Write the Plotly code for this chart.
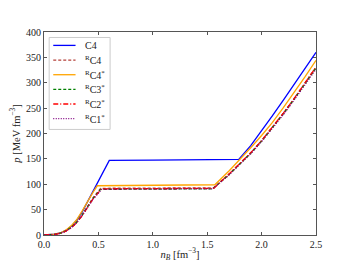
import plotly.graph_objects as go

# ---- data ----
n_C4 = [0, 0.05, 0.1, 0.15, 0.2, 0.25, 0.3, 0.35, 0.4, 0.45, 0.5, 0.55, 0.6, 1.0, 1.5, 1.79, 1.9, 2.0, 2.1, 2.2, 2.3, 2.4, 2.5]
p_C4 = [0, 0.3, 1.5, 4, 9, 17, 29, 45, 65, 87, 107, 127, 147, 147.5, 148, 149, 176, 205, 235, 266, 297, 328, 360]

n_RC4 = [0, 0.05, 0.1, 0.15, 0.2, 0.25, 0.3, 0.35, 0.4, 0.45, 0.52, 1.0, 1.56, 1.7, 1.8, 1.9, 2.0, 2.1, 2.2, 2.3, 2.4, 2.5]
p_RC4 = [0, 0.2, 1.2, 3.5, 8, 15, 25, 39, 56, 73, 92, 92.5, 93, 120, 140, 162, 186, 212, 240, 269, 300, 331]

n_RC4s = [0, 0.05, 0.1, 0.15, 0.2, 0.25, 0.3, 0.35, 0.4, 0.45, 0.49, 1.0, 1.57, 1.7, 1.8, 1.9, 2.0, 2.1, 2.2, 2.3, 2.4, 2.5]
p_RC4s = [0, 0.3, 1.5, 4, 9.5, 18, 30, 47, 66, 84, 97, 98, 99, 126, 148, 172, 196, 222, 251, 281, 312, 344]

n_RC3s = [0, 0.05, 0.1, 0.15, 0.2, 0.25, 0.3, 0.35, 0.4, 0.45, 0.52, 1.0, 1.55, 1.7, 1.8, 1.9, 2.0, 2.1, 2.2, 2.3, 2.4, 2.5]
p_RC3s = [0, 0.2, 1.2, 3.5, 8, 15, 25, 39, 56, 72, 90, 90.5, 91, 119, 139, 161, 185, 211, 239, 268, 298, 329]

n_RC2s = [0, 0.05, 0.1, 0.15, 0.2, 0.25, 0.3, 0.35, 0.4, 0.45, 0.53, 1.0, 1.56, 1.7, 1.8, 1.9, 2.0, 2.1, 2.2, 2.3, 2.4, 2.5]
p_RC2s = [0, 0.2, 1.1, 3.3, 7.5, 14, 24, 38, 54, 71, 91, 91.5, 92, 120, 140, 162, 186, 212, 240, 269, 300, 331]

n_RC1s = [0, 0.05, 0.1, 0.15, 0.2, 0.25, 0.3, 0.35, 0.4, 0.45, 0.53, 1.0, 1.55, 1.7, 1.8, 1.9, 2.0, 2.1, 2.2, 2.3, 2.4, 2.5]
p_RC1s = [0, 0.2, 1.1, 3.3, 7.5, 14, 24, 38, 54, 70, 90, 90.5, 91, 118, 138, 160, 184, 210, 237, 266, 296, 327]

x_ticks = [0.0, 0.5, 1.0, 1.5, 2.0, 2.5]
x_ticklabels = ["0.0", "0.5", "1.0", "1.5", "2.0", "2.5"]
y_ticks = [0, 50, 100, 150, 200, 250, 300, 350, 400]

series = [
    ("C4", n_C4, p_C4, "#0000ff", "solid"),
    ("<sup>R</sup>C4", n_RC4, p_RC4, "#b5403a", "3px,2px"),
    ("<sup>R</sup>C4<sup>*</sup>", n_RC4s, p_RC4s, "#ffa500", "solid"),
    ("<sup>R</sup>C3<sup>*</sup>", n_RC3s, p_RC3s, "#008000", "3px,2px"),
    ("<sup>R</sup>C2<sup>*</sup>", n_RC2s, p_RC2s, "#ff0000", "5px,2px,1px,2px"),
    ("<sup>R</sup>C1<sup>*</sup>", n_RC1s, p_RC1s, "#800080", "1px,1.5px"),
]

fig = go.Figure()
for name, x, y, col, dash in series:
    fig.add_trace(go.Scatter(x=x, y=y, mode="lines", name=name, showlegend=False,
                             line=dict(color=col, width=1.3, dash=dash)))

# compact legend (matplotlib-style) drawn in paper coordinates
leg_x0, leg_x1, leg_top, leg_bot = 0.019, 0.243, 0.973, 0.520
fig.add_shape(type="rect", xref="paper", yref="paper",
              x0=leg_x0, x1=leg_x1, y0=leg_bot, y1=leg_top,
              line=dict(color="#cccccc", width=1), fillcolor="white", layer="above")
item_top, item_step = 0.934, 0.0722
for i, (name, _, _, col, dash) in enumerate(series):
    yy = item_top - i * item_step
    fig.add_shape(type="line", xref="paper", yref="paper",
                  x0=0.034, x1=0.116, y0=yy, y1=yy,
                  line=dict(color=col, width=1.3, dash=dash), layer="above")
    fig.add_annotation(xref="paper", yref="paper", x=0.142, y=yy,
                       xanchor="left", yanchor="middle", text=name, showarrow=False,
                       font=dict(size=10, color="#222"))

font = dict(family="Liberation Serif, DejaVu Serif, serif", size=10, color="#222")
axis_common = dict(showgrid=False, zeroline=False, showline=True, mirror="ticks",
                   linecolor="#555", linewidth=1, ticks="inside", ticklen=3,
                   tickcolor="#555", tickfont=dict(size=10))

# page body has an 8px default margin, so the figure is sized to fit the 352x264 window
fig.update_layout(
    width=344, height=256,
    margin=dict(l=36, r=36, t=24, b=29),
    paper_bgcolor="white", plot_bgcolor="white",
    font=font,
    showlegend=False,
    xaxis=dict(range=[0, 2.5], tickvals=x_ticks, ticktext=x_ticklabels,
               title=dict(text="<i>n</i><sub><i>B</i></sub> [fm<sup>−3</sup>]", standoff=1, font=dict(size=10.5)),
               automargin=False, **axis_common),
    yaxis=dict(range=[0, 400], tickvals=y_ticks,
               title=dict(text="<i>p</i> [MeV fm<sup>−3</sup>]", standoff=3, font=dict(size=10.5)),
               automargin=False, **axis_common),
)

fig.write_html("out.html")
